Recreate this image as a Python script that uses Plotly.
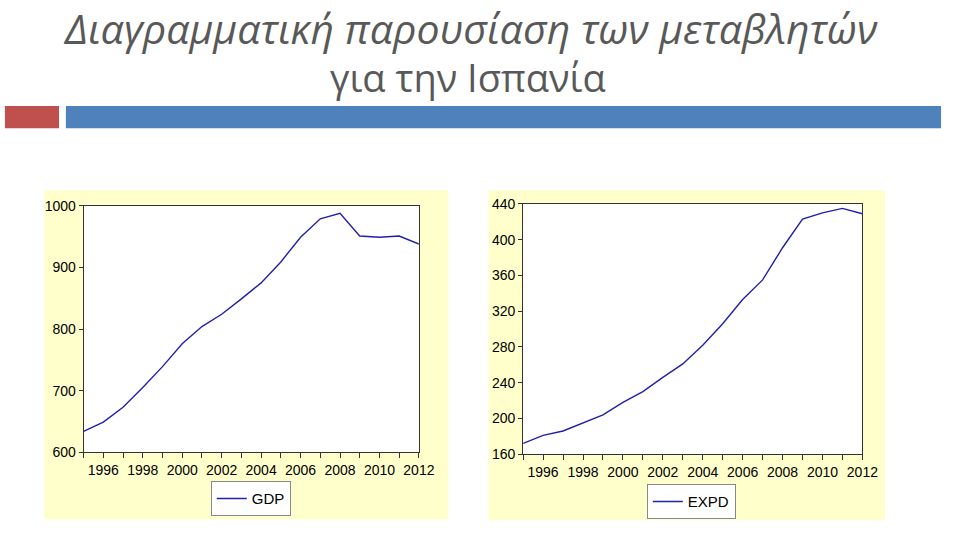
import plotly.graph_objects as go

# data (Spain, 1995-2012)
years = list(range(1995, 2013))
gdp = [634, 649, 673, 705, 739, 776, 804, 824, 849, 875, 909, 949, 979, 988, 951, 949, 951, 938]
expd = [172, 181, 186, 195, 204, 218, 230, 246, 261, 282, 306, 333, 355, 391, 423, 430, 435, 429]

year_ticks = list(range(1996, 2013, 2))
gdp_ticks = [600, 700, 800, 900, 1000]
expd_ticks = [160, 200, 240, 280, 320, 360, 400, 440]

W, H = 960, 533
YELLOW = "#FFFFCC"
LINE = "#2020AA"
tick_font = dict(family="Liberation Sans, Arial", size=14, color="#000000")


def px(x):
    return x / W


def py(y):
    return 1 - y / H


fig = go.Figure()

fig.add_trace(go.Scatter(x=years, y=gdp, mode="lines", name="GDP",
                         line=dict(color=LINE, width=1.4),
                         xaxis="x", yaxis="y", legend="legend"))
fig.add_trace(go.Scatter(x=years, y=expd, mode="lines", name="EXPD",
                         line=dict(color=LINE, width=1.4),
                         xaxis="x2", yaxis="y2", legend="legend2"))

axis_common = dict(showline=True, linecolor="#333333", linewidth=1, mirror=True,
                   showgrid=False, zeroline=False, ticks="outside",
                   ticklen=5, tickcolor="#333333", tickfont=tick_font)
year_text = [str(y) if y in year_ticks else "" for y in years]
legend_font = dict(family="Liberation Sans, Arial", size=15, color="#000000")

fig.update_layout(
    width=W, height=H,
    margin=dict(l=0, r=0, t=0, b=0),
    paper_bgcolor="white",
    plot_bgcolor="white",
    showlegend=True,
    xaxis=dict(axis_common, domain=[px(85), px(426)], range=[1995, 2012],
               tickvals=years, ticktext=year_text, anchor="y"),
    yaxis=dict(axis_common, domain=[py(458), py(204)], range=[600, 1000],
               tickvals=gdp_ticks, ticklen=4, anchor="x"),
    xaxis2=dict(axis_common, domain=[px(532), px(877)], range=[1995, 2012],
                tickvals=years, ticktext=year_text, anchor="y2"),
    yaxis2=dict(axis_common, domain=[py(460), py(202)], range=[160, 440],
                tickvals=expd_ticks, ticklen=4, anchor="x2"),
    legend=dict(x=px(255), y=py(506), xanchor="center", yanchor="middle",
                bgcolor="white", bordercolor="#888888", borderwidth=1,
                font=legend_font, itemwidth=30, visible=True),
    legend2=dict(x=px(703), y=py(509), xanchor="center", yanchor="middle",
                 bgcolor="white", bordercolor="#888888", borderwidth=1,
                 font=legend_font, itemwidth=30, visible=True),
    shapes=[
        # yellow chart frames
        dict(type="rect", xref="paper", yref="paper", layer="below",
             x0=px(45), x1=px(456), y0=py(527), y1=py(188),
             fillcolor=YELLOW, line=dict(width=0)),
        dict(type="rect", xref="paper", yref="paper", layer="below",
             x0=px(497), x1=px(900), y0=py(528), y1=py(188),
             fillcolor=YELLOW, line=dict(width=0)),
        # white plot areas on top of the frames
        dict(type="rect", xref="x domain", yref="y domain", layer="below",
             x0=0, x1=1, y0=0, y1=1, fillcolor="white", line=dict(width=0)),
        dict(type="rect", xref="x2 domain", yref="y2 domain", layer="below",
             x0=0, x1=1, y0=0, y1=1, fillcolor="white", line=dict(width=0)),
        # header bars
        dict(type="rect", xref="paper", yref="paper",
             x0=px(5), x1=px(60), y0=py(124), y1=py(101),
             fillcolor="#C0504D", line=dict(width=0)),
        dict(type="rect", xref="paper", yref="paper",
             x0=px(67), x1=px(957), y0=py(124), y1=py(101),
             fillcolor="#4F81BD", line=dict(width=0)),
    ],
    annotations=[
        dict(text="<i>Διαγραμματική παρουσίαση των μεταβλητών</i>",
             x=px(478), y=py(21), xref="paper", yref="paper",
             showarrow=False, xanchor="center", yanchor="middle",
             font=dict(family="Open Sans", size=41, color="#595959")),
        dict(text="για την Ισπανία",
             x=px(476), y=py(71), xref="paper", yref="paper",
             showarrow=False, xanchor="center", yanchor="middle",
             font=dict(family="Open Sans", size=38, color="#595959")),
    ],
)

fig.write_html(
    "out.html",
    config={"displayModeBar": False},
    post_script="document.body.style.margin='0';document.body.style.overflow='hidden';",
)
